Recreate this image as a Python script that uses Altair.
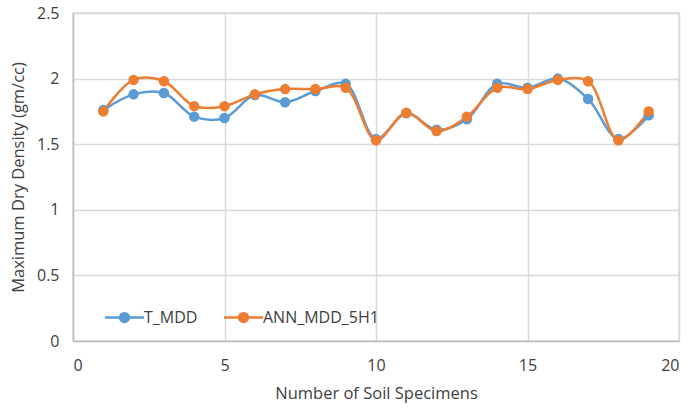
import altair as alt
import pandas as pd

specimens = list(range(1, 20))
t_mdd = [1.76, 1.88, 1.89, 1.71, 1.70, 1.875, 1.82, 1.905, 1.96, 1.54,
         1.735, 1.61, 1.69, 1.96, 1.93, 2.00, 1.845, 1.54, 1.72]
ann_mdd = [1.75, 1.99, 1.98, 1.79, 1.79, 1.88, 1.92, 1.92, 1.93, 1.53,
           1.74, 1.60, 1.71, 1.93, 1.92, 1.99, 1.98, 1.53, 1.75]
series_names = ["T_MDD", "ANN_MDD_5H1"]
colors = ["#5B9BD5", "#ED7D31"]

rows = []
for name, vals in zip(series_names, [t_mdd, ann_mdd]):
    for s, v in zip(specimens, vals):
        rows.append({"Specimen": s, "MDD": v, "Series": name})
df = pd.DataFrame(rows)

FONT = "Open Sans"
TXT = "#404040"
sym = "M-1.6,0L1.6,0M-0.36,0A0.36,0.36 0 1,1 0.36,0A0.36,0.36 0 1,1 -0.36,0Z"

axis_style = dict(grid=True, ticks=False, gridColor="#d9d9d9", gridWidth=1.5,
                  domainColor="#bfbfbf", domainWidth=1.5, labelFont=FONT, titleFont=FONT,
                  labelFontSize=16, titleFontSize=16.5, labelColor=TXT, titleColor=TXT,
                  titleFontWeight="normal", format=".1~f")

x = alt.X("Specimen:Q", scale=alt.Scale(domain=[0, 20], nice=False),
          axis=alt.Axis(values=[0, 5, 10, 15, 20], title="Number of Soil Specimens",
                        labelPadding=16, titlePadding=12, **axis_style))
y = alt.Y("MDD:Q", scale=alt.Scale(domain=[0, 2.5], nice=False),
          axis=alt.Axis(values=[0, 0.5, 1, 1.5, 2, 2.5], title="Maximum Dry Density (gm/cc)",
                        labelPadding=14, titlePadding=10, **axis_style))
color = alt.Color("Series:N", scale=alt.Scale(domain=series_names, range=colors),
                  legend=alt.Legend(orient="none", legendX=38, legendY=291, direction="horizontal",
                                    title=None, symbolType=sym, symbolSize=600,
                                    symbolStrokeWidth=2.5, labelFontSize=16, labelFont=FONT,
                                    labelColor=TXT, columnPadding=20, labelOffset=6))

base = alt.Chart(df)
lines = base.mark_line(interpolate="catmull-rom", strokeWidth=2.5).encode(x=x, y=y, color=color)
points = base.mark_circle(size=110, opacity=1).encode(x=x, y=y, color=color)

chart = alt.layer(lines, points).properties(
    width=606, height=328,
    background="white",
    autosize=alt.AutoSizeParams(type="none"),
    padding={"left": 73, "top": 13, "right": 10, "bottom": 67},
).configure_view(stroke="#d9d9d9", strokeWidth=1.5)

chart.save("out.html", embed_options={"renderer": "svg", "actions": False})
